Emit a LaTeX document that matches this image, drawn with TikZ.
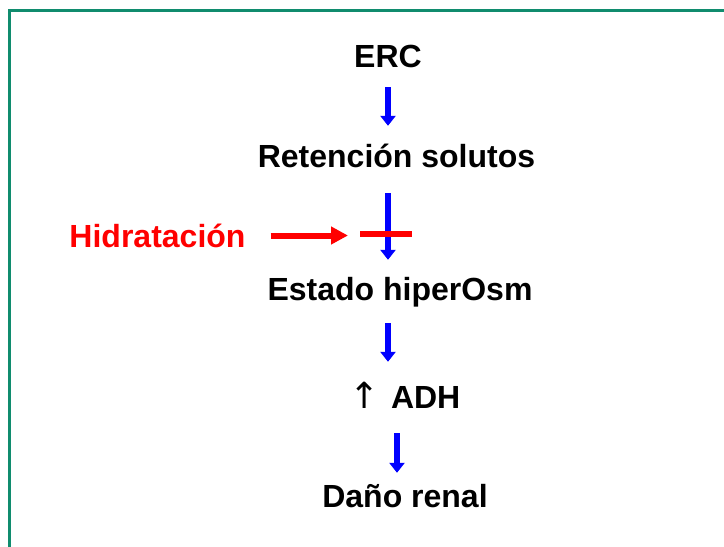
\documentclass[tikz,border=0pt]{standalone}
\usepackage{fontspec}
\setmainfont{Liberation Sans}
\newfontfamily\symf{DejaVu Sans}
\usetikzlibrary{arrows.meta}
\definecolor{frame}{RGB}{16,140,110}
\tikzset{
  lbl/.style={font=\fontsize{32}{38}\selectfont\bfseries, inner sep=0pt, text height=23pt, text depth=0pt},
  barrow/.style={draw={rgb,255:red,0;green,0;blue,255}, line width=6.5pt, -{Triangle[width=15pt,length=10pt]}},
  rarrow/.style={draw=red, line width=6pt, -{Triangle[width=17pt,length=17pt]}},
  rbar/.style={draw=red, line width=6pt}
}
\begin{document}
\begin{tikzpicture}[x=1pt,y=-1pt]
\useasboundingbox (0,0) rectangle (724,547);
\clip (0,0) rectangle (724,547);
\fill[white] (0,0) rectangle (724,547);
\draw[frame, line width=3pt] (9,10) rectangle (760,600);
\node[lbl] (erc) at (388,55.5) {ERC};
\node[lbl] (ret) at (396.5,155.5) {Retención solutos};
\node[lbl, text=red] (hid) at (157.5,235.5) {Hidratación};
\node[lbl] (est) at (400,288.5) {Estado hiperOsm};
\node[lbl] (adh) at (405,396.5) {{\symf\mdseries\fontsize{36}{38}\selectfont ↑}\hspace{0.35em}ADH};
\node[lbl] (dano) at (405,495.5) {Daño renal};
\coordinate (barl) at (360,234);
\coordinate (barr) at (412,234);
\draw[barrow, shorten <=20pt, shorten >=18pt] (erc.south) -- (erc.south |- ret.north);
\draw[barrow, shorten <=26pt, shorten >=17pt] (ret.south -| erc.south) -- (est.north -| erc.south);
\draw[barrow, shorten <=23pt, shorten >=23pt] (est.south -| erc.south) -- (adh.north -| erc.south);
\draw[barrow, shorten <=25pt, shorten >=11pt] ([xshift=-8pt]adh.south) -- ([xshift=-8pt]adh.south |- dano.north);
\draw[rarrow, shorten <=25pt, shorten >=12pt] (hid.east) -- (hid.east -| barl);
\draw[rbar] (barl) -- (barr);
\end{tikzpicture}
\end{document}
